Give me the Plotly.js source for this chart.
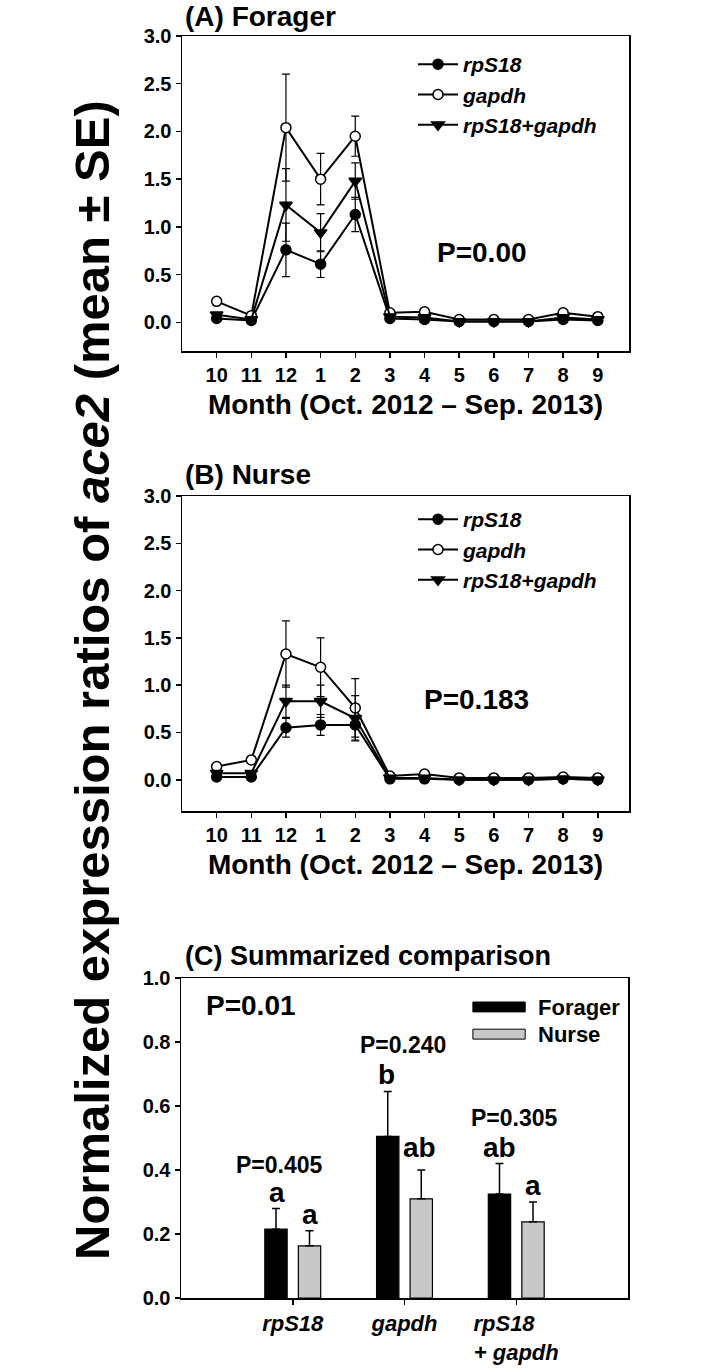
<!DOCTYPE html>
<html>
<head>
<meta charset="utf-8">
<script src="https://cdn.plot.ly/plotly-3.0.1.min.js"></script>
<style>html,body{margin:0;padding:0;background:#fff;}#chart{width:705px;height:1371px;}</style>
</head>
<body>
<div id="chart"></div>
<script>
// ---- Data ----
const months = ['10','11','12','1','2','3','4','5','6','7','8','9'];
const monthIdx = [0,1,2,3,4,5,6,7,8,9,10,11];

// Panel A: Forager
const forRps   = [0.04,0.02,0.76,0.61,1.13,0.04,0.03,0.01,0.01,0.01,0.03,0.02];
const forRpsSE = [0.01,0.01,0.28,0.14,0.18,0.01,0.01,0.005,0.005,0.005,0.01,0.01];
const forGap   = [0.22,0.07,2.04,1.50,1.95,0.10,0.11,0.03,0.03,0.03,0.10,0.06];
const forGapSE = [0.03,0.02,0.56,0.27,0.21,0.02,0.02,0.01,0.01,0.01,0.02,0.01];
const forCom   = [0.08,0.03,1.23,0.94,1.48,0.06,0.05,0.01,0.01,0.01,0.05,0.03];
const forComSE = [0.02,0.01,0.38,0.20,0.19,0.01,0.01,0.005,0.005,0.005,0.01,0.01];

// Panel B: Nurse
const nurRps   = [0.03,0.03,0.55,0.58,0.58,0.01,0.01,0.00,0.00,0.00,0.01,0.00];
const nurRpsSE = [0.01,0.01,0.10,0.11,0.16,0.005,0.005,0.002,0.002,0.002,0.005,0.002];
const nurGap   = [0.14,0.21,1.33,1.19,0.76,0.04,0.06,0.02,0.02,0.02,0.03,0.02];
const nurGapSE = [0.02,0.02,0.35,0.31,0.31,0.01,0.01,0.005,0.005,0.005,0.01,0.005];
const nurCom   = [0.07,0.07,0.83,0.83,0.65,0.02,0.02,0.00,0.00,0.00,0.01,0.00];
const nurComSE = [0.01,0.01,0.17,0.17,0.24,0.005,0.005,0.002,0.002,0.002,0.005,0.002];

// Panel C: Summarized comparison
const genes      = ['<i>rpS18</i>','<i>gapdh</i>','<i>rpS18</i>    <br><i>+ gapdh</i>'];
const genePos    = [1,2,3];
const forMean    = [0.215,0.505,0.325];
const forSE      = [0.065,0.140,0.095];
const nurMean    = [0.163,0.310,0.238];
const nurSE      = [0.047,0.090,0.062];
const forLetters = ['a','b','ab'];
const nurLetters = ['a','ab','a'];
const geneP      = ['P=0.405','P=0.240','P=0.305'];

const seriesNames = ['<i>rpS18</i>','<i>gapdh</i>','<i>rpS18+gapdh</i>'];

// ---- Styling ----
const FONT = 'Liberation Sans, Arial, sans-serif';
const W = 705, H = 1371;
const px2x = p => p / W;
const py2y = p => 1 - p / H;

function lineTrace(x, y, se, name, symbol, fill, xa, ya, legend, show) {
  return {
    x: x, y: y, name: name, type: 'scatter', mode: 'lines+markers',
    xaxis: xa, yaxis: ya, legend: legend, showlegend: show,
    line: {color: '#000', width: 2},
    marker: {symbol: symbol, size: symbol === 'triangle-down' ? 11 : 10, color: fill, line: {color: '#000', width: 1.5}},
    error_y: {type: 'data', array: se, visible: true, color: '#000', thickness: 1.2, width: 4}
  };
}

const traces = [
  lineTrace(monthIdx, forRps, forRpsSE, seriesNames[0], 'circle', '#000', 'x', 'y', 'legend', true),
  lineTrace(monthIdx, forGap, forGapSE, seriesNames[1], 'circle', '#fff', 'x', 'y', 'legend', true),
  lineTrace(monthIdx, forCom, forComSE, seriesNames[2], 'triangle-down', '#000', 'x', 'y', 'legend', true),
  lineTrace(monthIdx, nurRps, nurRpsSE, seriesNames[0], 'circle', '#000', 'x2', 'y2', 'legend2', true),
  lineTrace(monthIdx, nurGap, nurGapSE, seriesNames[1], 'circle', '#fff', 'x2', 'y2', 'legend2', true),
  lineTrace(monthIdx, nurCom, nurComSE, seriesNames[2], 'triangle-down', '#000', 'x2', 'y2', 'legend2', true),
  {
    x: genePos, y: forMean, name: 'Forager', type: 'bar', xaxis: 'x3', yaxis: 'y3',
    width: 0.2, offset: -0.25, showlegend: false,
    marker: {color: '#000', line: {color: '#000', width: 1.2}},
    error_y: {type: 'data', array: forSE, arrayminus: forSE.map(() => 0), symmetric: false, color: '#000', thickness: 1.5, width: 4}
  },
  {
    x: genePos, y: nurMean, name: 'Nurse', type: 'bar', xaxis: 'x3', yaxis: 'y3',
    width: 0.2, offset: 0.05, showlegend: false,
    marker: {color: '#c8c8c8', line: {color: '#000', width: 1.2}},
    error_y: {type: 'data', array: nurSE, arrayminus: nurSE.map(() => 0), symmetric: false, color: '#000', thickness: 1.5, width: 4}
  }
];

const axisCommon = {
  showline: true, linecolor: '#000', linewidth: 1.5, mirror: true,
  ticks: 'outside', ticklen: 5, tickwidth: 1.5, tickcolor: '#000',
  showgrid: false, zeroline: false, fixedrange: true
};

function monthAxis(dom, anchor) {
  return Object.assign({}, axisCommon, {
    domain: dom, anchor: anchor, range: [-1, 11.9],
    tickmode: 'array', tickvals: monthIdx, ticktext: months,
    tickfont: {family: FONT, size: 20, color: '#000', weight: 'bold'},
    title: {text: '<b>Month (Oct. 2012 – Sep. 2013)</b>', font: {family: FONT, size: 28, color: '#000'}, standoff: 10}
  });
}
function valAxis(dom, anchor, rng, vals, fmt) {
  return Object.assign({}, axisCommon, {
    domain: dom, anchor: anchor, range: rng,
    tickmode: 'array', tickvals: vals, tickformat: fmt,
    tickfont: {family: FONT, size: 20, color: '#000', weight: 'bold'}
  });
}

const xDom = [px2x(182), px2x(629)];
const xDomC = [px2x(181), px2x(628)];
const yDomA = [py2y(351), py2y(36)];
const yDomB = [py2y(811), py2y(496)];
const yDomC = [py2y(1298), py2y(978)];

const tickA = [0, 0.5, 1, 1.5, 2, 2.5, 3];
const tickC = [0, 0.2, 0.4, 0.6, 0.8, 1.0];

const annFont = (s) => ({family: FONT, size: s, color: '#000'});
const annotations = [
  {text: '<b>(A) Forager</b>', xref: 'paper', yref: 'paper', x: px2x(183), y: py2y(17), xanchor: 'left', yanchor: 'middle', showarrow: false, font: annFont(28)},
  {text: '<b>(B) Nurse</b>', xref: 'paper', yref: 'paper', x: px2x(183), y: py2y(475), xanchor: 'left', yanchor: 'middle', showarrow: false, font: annFont(28)},
  {text: '<b>(C) Summarized comparison</b>', xref: 'paper', yref: 'paper', x: px2x(183), y: py2y(956), xanchor: 'left', yanchor: 'middle', showarrow: false, font: annFont(27)},
  {text: '<b>Normalized expression ratios of <i>ace2</i> (mean ± SE)</b>', xref: 'paper', yref: 'paper', x: px2x(92), y: py2y(680), textangle: -90, xanchor: 'center', yanchor: 'middle', showarrow: false, font: annFont(49)},
  {text: '<b>P=0.00</b>', xref: 'x', yref: 'y', x: 7.65, y: 0.73, showarrow: false, font: annFont(28)},
  {text: '<b>P=0.183</b>', xref: 'x2', yref: 'y2', x: 7.5, y: 0.85, showarrow: false, font: annFont(28)},
  {text: '<b>P=0.01</b>', xref: 'x3', yref: 'y3', x: 0.63, y: 0.915, showarrow: false, font: annFont(28)},
  {text: '<b>Forager</b>', xref: 'x3 domain', yref: 'y3 domain', x: 0.794, y: 0.909, xanchor: 'left', yanchor: 'middle', showarrow: false, font: annFont(22)},
  {text: '<b>Nurse</b>', xref: 'x3 domain', yref: 'y3 domain', x: 0.794, y: 0.825, xanchor: 'left', yanchor: 'middle', showarrow: false, font: annFont(22)}
];
// Panel C letters and per-gene P values (placed above bars + error)
const forLetterX = [0.857, 1.84, 2.85], forLetterY = [0.33, 0.70, 0.47];
const nurLetterX = [1.15, 2.13, 3.15], nurLetterY = [0.26, 0.47, 0.353];
const pX = [0.885, 1.99, 2.98], pY = [0.415, 0.79, 0.5625];
for (let i = 0; i < 3; i++) {
  annotations.push({text: '<b>' + forLetters[i] + '</b>', xref: 'x3', yref: 'y3', x: forLetterX[i], y: forLetterY[i], showarrow: false, font: annFont(28)});
  annotations.push({text: '<b>' + nurLetters[i] + '</b>', xref: 'x3', yref: 'y3', x: nurLetterX[i], y: nurLetterY[i], showarrow: false, font: annFont(28)});
  annotations.push({text: '<b>' + geneP[i] + '</b>', xref: 'x3', yref: 'y3', x: pX[i], y: pY[i], showarrow: false, font: annFont(23)});
}

const shapes = [
  {type: 'rect', xref: 'x3 domain', yref: 'y3 domain', x0: 0.653, x1: 0.770, y0: 0.894, y1: 0.925, fillcolor: '#000', line: {color: '#000', width: 1}},
  {type: 'rect', xref: 'x3 domain', yref: 'y3 domain', x0: 0.653, x1: 0.770, y0: 0.809, y1: 0.840, fillcolor: '#c8c8c8', line: {color: '#000', width: 1}}
];

const legendStyle = (yPx) => ({
  x: px2x(413), y: py2y(yPx), xanchor: 'left', yanchor: 'top',
  bgcolor: 'rgba(0,0,0,0)', borderwidth: 0,
  font: {family: FONT, size: 21, color: '#000', weight: 'bold'},
  itemwidth: 40, tracegroupgap: 0
});

const layout = {
  width: W, height: H,
  margin: {l: 0, r: 0, t: 0, b: 0},
  paper_bgcolor: '#fff', plot_bgcolor: '#fff',
  showlegend: true,
  font: {family: FONT, color: '#000'},
  xaxis: monthAxis(xDom, 'y'),
  yaxis: valAxis(yDomA, 'x', [-0.3, 3.0], tickA, '.1f'),
  xaxis2: monthAxis(xDom, 'y2'),
  yaxis2: valAxis(yDomB, 'x2', [-0.33, 3.0], tickA, '.1f'),
  xaxis3: Object.assign({}, axisCommon, {
    domain: xDomC, anchor: 'y3', range: [0, 4],
    tickmode: 'array', tickvals: genePos, ticktext: genes,
    tickfont: {family: FONT, size: 22, color: '#000', weight: 'bold'}
  }),
  yaxis3: valAxis(yDomC, 'x3', [0, 1.0], tickC, '.1f'),
  legend: legendStyle(44),
  legend2: legendStyle(499),
  barmode: 'overlay',
  annotations: annotations,
  shapes: shapes
};

Plotly.newPlot('chart', traces, layout, {displayModeBar: false, staticPlot: true});
</script>
</body>
</html>
